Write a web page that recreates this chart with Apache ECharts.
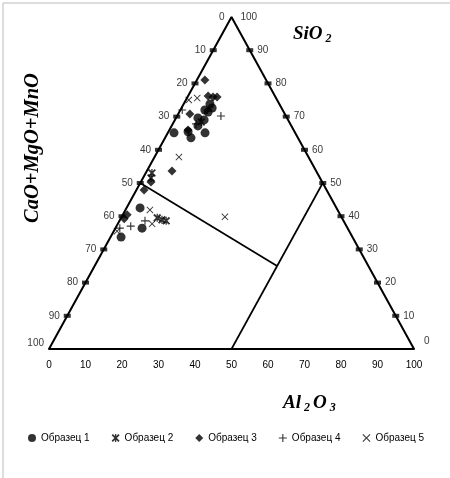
<!DOCTYPE html>
<html><head><meta charset="utf-8">
<script src="https://cdn.jsdelivr.net/npm/echarts@6/dist/echarts.min.js"></script>
<style>html,body{margin:0;padding:0;background:#fff}#c{width:450px;height:478px}</style>
</head><body><div id="c"></div>
<script>
// Ternary data: [Al2O3, SiO2]  (CaO+MgO+MnO = 100 - Al2O3 - SiO2)
const seriesNames = ['Образец 1','Образец 2','Образец 3','Образец 4','Образец 5'];
const sample1 = [[6.7,72.0],[7.2,73.8],[7.9,71.4],[8.4,72.6],[6.0,69.6],[8.0,69.0],[7.2,67.2],[10.2,65.1],[1.7,65.1],[5.4,65.4],[7.1,63.6],[3.7,42.5],[7.3,36.4],[2.9,33.7]];
const sample2 = [[1.7,53.0],[2.2,51.5],[9.9,39.5],[11.5,38.9],[12.8,38.6],[7.5,68.4]];
const sample3 = [[2.2,81.0],[5.5,76.2],[7.0,75.9],[8.1,75.9],[3.2,70.8],[5.1,66.0],[6.9,53.6],[2.8,50.3],[2.1,47.9],[1.0,39.2],[1.2,40.4]];
const sample4 = [[12.0,70.2],[6.4,67.8],[7.0,38.6],[3.9,37.0],[1.2,36.4],[0.5,72.0]];
const sample5 = [[2.8,75.6],[6.7,57.8],[28.3,39.8],[6.7,41.9],[9.4,37.7],[0.8,75.0],[0.9,35.5]];
const sideTicks = [10,20,30,40,50,60,70,80,90];
const bottomTicks = [0,10,20,30,40,50,60,70,80,90,100];
// boundary lines, ternary [Al2O3, SiO2]
const boundary1 = [[0,50],[50,25]];
const boundary2 = [[50,0],[50,50]];

function xy(p){ return [p[0] + p[1]/2, p[1]]; }

const symbols = [
  'circle',
  'path://M0,1.6L1.6,0L5,3.4L8.4,0L10,1.6L6.6,5L10,8.4L8.4,10L5,6.6L1.6,10L0,8.4L3.4,5Z M4.2,0H5.8V10H4.2Z',
  'diamond',
  'path://M4.3,0H5.7V4.3H10V5.7H5.7V10H4.3V5.7H0V4.3H4.3Z',
  'path://M0,0.9L0.9,0L5,4.1L9.1,0L10,0.9L5.9,5L10,9.1L9.1,10L5,5.9L0.9,10L0,9.1L4.1,5Z'
];
const sizes = [9,8,9,8,7];
const samples = [sample1,sample2,sample3,sample4,sample5];

const font = 'Liberation Sans, Arial, sans-serif';
const serif = '"Liberation Serif", "Times New Roman", serif';
const series = [];
samples.forEach((s,i)=>{
  series.push({name:seriesNames[i], type:'scatter', symbol:symbols[i], symbolSize:sizes[i],
    itemStyle:{color:'#000'}, data:s.map(xy), z:5});
});
// triangle sides
series.push({type:'line', data:[[0,0],[50,100],[100,0]], symbol:'none', lineStyle:{color:'#000',width:2}, silent:true, z:3});
series.push({type:'line', data:boundary1.map(xy), symbol:'none', lineStyle:{color:'#000',width:1.7}, silent:true, z:3});
series.push({type:'line', data:boundary2.map(xy), symbol:'none', lineStyle:{color:'#000',width:1.7}, silent:true, z:3});
// left side ticks (CaO+MgO+MnO)
series.push({type:'scatter', symbol:'rect', symbolSize:[7,4], itemStyle:{color:'#000'}, silent:true, z:4,
  data: sideTicks.map(c=>({value: xy([0,100-c]), name:String(c)})),
  label:{show:true, position:'left', distance:4, formatter:p=>p.name, color:'#000', fontSize:10, fontFamily:font}});
// right side ticks (SiO2)
series.push({type:'scatter', symbol:'rect', symbolSize:[7,4], itemStyle:{color:'#000'}, silent:true, z:4,
  data: sideTicks.map(s=>({value: xy([100-s,s]), name:String(s)})),
  label:{show:true, position:'right', distance:4, formatter:p=>p.name, color:'#000', fontSize:10, fontFamily:font}});
// corner labels
series.push({type:'scatter', symbolSize:0, silent:true, z:4,
  data:[
    {value: xy([0,100]), name:'0', label:{position:'left', offset:[-2,0]}},
    {value: xy([0,100]), name:'100', label:{position:'right', offset:[4,0]}},
    {value: xy([0,0]), name:'100', label:{position:'left', offset:[0,-6]}},
    {value: xy([100,0]), name:'0', label:{position:'right', offset:[5,-8]}}
  ],
  label:{show:true, formatter:p=>p.name, color:'#000', fontSize:10, fontFamily:font}});

const chart = echarts.init(document.getElementById('c'), null, {renderer:'canvas'});
chart.setOption({
  animation:false,
  backgroundColor:'#fff',
  grid:{left:49, right:36, top:17, bottom:129},
  xAxis:{type:'value', min:0, max:100, interval:10,
    axisLine:{lineStyle:{color:'#000', width:2}}, axisTick:{show:false}, splitLine:{show:false},
    axisLabel:{color:'#000', fontSize:10, fontFamily:font, margin:11, formatter:v=>String(v)}},
  yAxis:{type:'value', min:0, max:100, show:false},
  legend:{data:seriesNames.map((n,i)=>({name:n, icon:symbols[i]})), left:23, top:428,
    itemWidth:8, itemHeight:8, itemGap:22, textStyle:{color:'#000', fontSize:10, fontFamily:font}, selectedMode:false},
  graphic:[
    {type:'rect', shape:{x:3,y:3,width:460,height:490}, style:{fill:'none', stroke:'#bbb', lineWidth:1}, silent:true},
    {type:'text', left:293, top:25, style:{text:'{a|SiO}{b| 2}', rich:{
      a:{fontFamily:serif, fontStyle:'italic', fontWeight:'bold', fontSize:19, fill:'#000'},
      b:{fontFamily:serif, fontStyle:'italic', fontWeight:'bold', fontSize:12, fill:'#000', padding:[8,0,0,0]}}}},
    {type:'text', left:283, top:394, style:{text:'{a|Al}{b| 2 }{a|O}{b| 3}', rich:{
      a:{fontFamily:serif, fontStyle:'italic', fontWeight:'bold', fontSize:19, fill:'#000'},
      b:{fontFamily:serif, fontStyle:'italic', fontWeight:'bold', fontSize:12, fill:'#000', padding:[8,0,0,0]}}}},
    {type:'text', x:33, y:148, rotation:Math.PI/2, style:{text:'CaO+MgO+MnO', x:0, y:0, align:'center', verticalAlign:'middle',
      font:'italic bold 20.5px "Liberation Serif", "Times New Roman", serif', fill:'#000'}}
  ],
  series: series
});
</script></body></html>
